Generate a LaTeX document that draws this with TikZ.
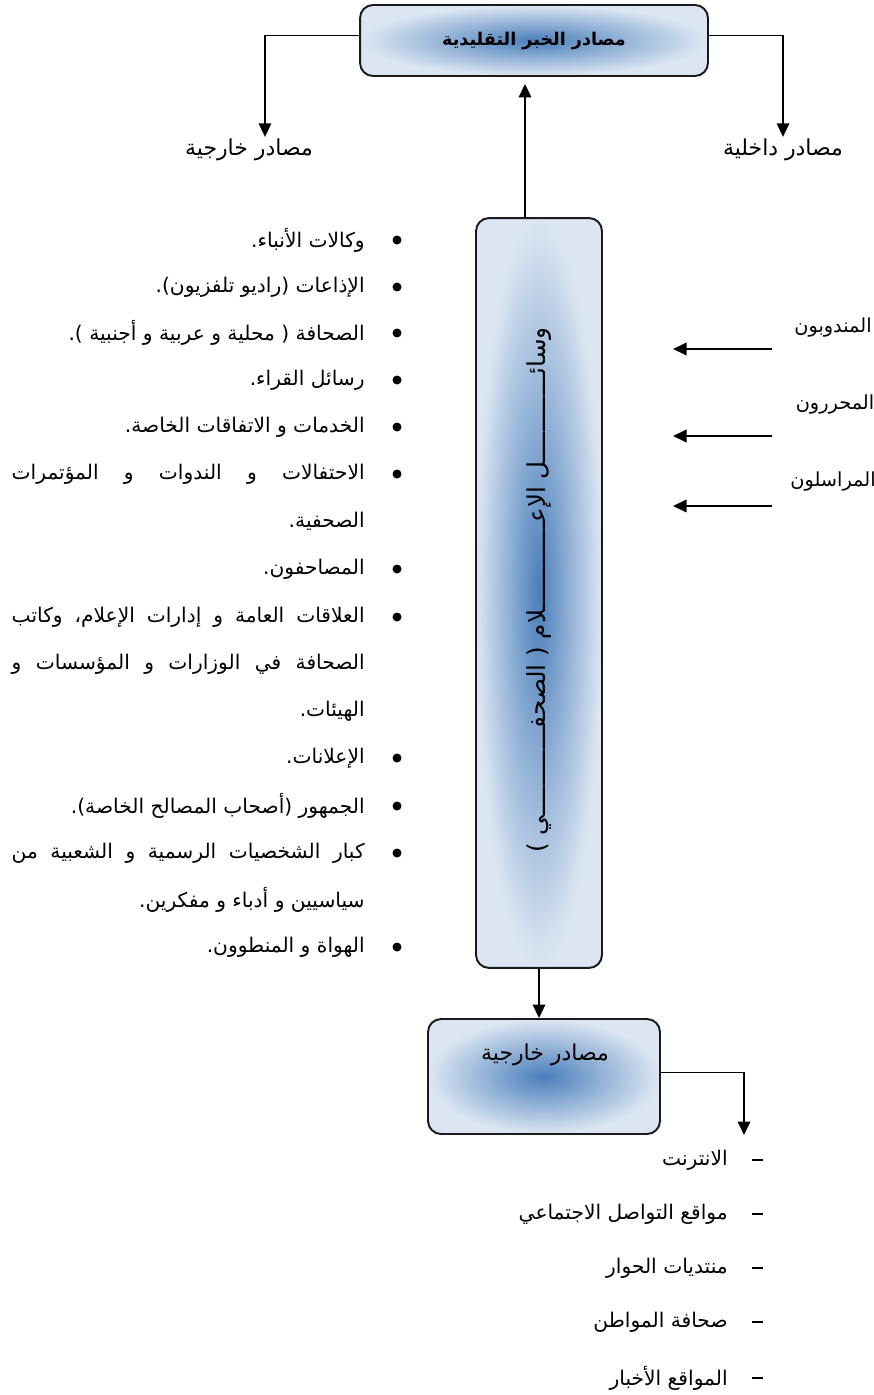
\documentclass[tikz,border=0pt]{standalone}
\usepackage{fontspec}
\usepackage{xcolor}
\usepackage{tikz}
\usetikzlibrary{positioning,arrows.meta}

\newfontfamily\arabicfont[Script=Arabic]{DejaVu Sans}
\TeXXeTstate=1

\definecolor{boxout}{HTML}{DCE6F2}
\definecolor{boxin}{HTML}{4A7EBB}
\definecolor{rim}{HTML}{1A1A1A}

\newcommand{\artxt}[1]{{\arabicfont\beginR #1\endR}}
\newcommand{\arjust}[1]{\makebox[7.06cm][s]{\arabicfont\beginR #1\endR}}

\begin{document}
\begin{tikzpicture}[
    x=0.02cm, y=-0.02cm,
    font=\fontsize{11.5}{13}\selectfont,
    glowbox/.style = {draw=rim, line width=1.1pt, rounded corners=0.26cm,
                      inner color=boxin, outer color=boxout},
    arr/.style     = {-{Triangle[length=0.27cm,width=0.25cm]}, line width=1pt},
    lbl/.style     = {inner sep=1pt, font=\fontsize{12.5}{14}\selectfont},
    staff/.style   = {inner sep=1pt, font=\fontsize{11}{13}\selectfont},
    entry/.style   = {anchor=east, inner sep=0pt},
    dot/.style     = {circle, fill, inner sep=0pt, minimum size=0.18cm},
]
\useasboundingbox (0,0) rectangle (873,1395);

%% ── Traditional sources ───────────────────────────────────────────────────
\node[glowbox, minimum width=6.96cm, minimum height=1.42cm,
      font=\fontsize{10}{12}\selectfont] (trad) at (534,40.5)
  {\bfseries\artxt{مصادر الخبر التقليدية}};
\node[lbl] (extl) at (249,150) {\artxt{مصادر خارجية}};
\node[lbl] (intl) at (783,150) {\artxt{مصادر داخلية}};
\draw[arr] ([yshift=0.1cm]trad.west) -| ([xshift=0.32cm]extl.north);
\draw[arr] ([yshift=0.1cm]trad.east) -| (intl.north);

%% ── Media column ──────────────────────────────────────────────────────────
\node[glowbox, minimum width=2.52cm, minimum height=15cm] (media) at (539,593) {};
\node[rotate=90, font=\fontsize{14}{16}\selectfont] (mediat) at (539,590)
  {\artxt{وسائــــــــــــل الإعــــــــــــلام ( الصحفــــــــــــي )}};
\coordinate (up) at (525,218);
\draw[arr, shorten >=0.14cm] (media.north -| up) -- (trad.south -| up);

%% ── Staff on the right ────────────────────────────────────────────────────
\node[staff] (staff1) at (833,328) {\artxt{المندوبون}};
\node[staff] (staff2) at (835,405) {\artxt{المحررون}};
\node[staff] (staff3) at (833,482) {\artxt{المراسلون}};
\foreach \i/\y in {1/349, 2/436, 3/506} {
  \coordinate (s\i) at (772,\y);
  \coordinate (t\i) at (673,\y);
  \draw[arr] (s\i) -- (t\i);
}

%% ── Bullet list on the left ───────────────────────────────────────────────
\foreach \y in {240,287,333,380,427,474,569,617,758,806,853,947}
  \node[dot] (b\y) at (397,\y) {};
\foreach \y/\txt in {240/{وكالات الأنباء.},
                     287/{الإذاعات (راديو تلفزيون).},
                     333/{الصحافة ( محلية و عربية و أجنبية ).},
                     380/{رسائل القراء.},
                     427/{الخدمات و الاتفاقات الخاصة.},
                     521/{الصحفية.},
                     569/{المصاحفون.},
                     711/{الهيئات.},
                     758/{الإعلانات.},
                     806/{الجمهور (أصحاب المصالح الخاصة).},
                     900/{سياسيين و أدباء و مفكرين.},
                     947/{الهواة و المنطوون.}}
  \node[entry] (l\y) at (365,\y) {\artxt{\txt}};
\node[entry] (l474) at (365,474)
  {\arjust{الاحتفالات\hfill و\hfill الندوات\hfill و\hfill المؤتمرات}};
\node[entry] (l617) at (365,617)
  {\arjust{العلاقات\hfill العامة\hfill و\hfill إدارات\hfill الإعلام،\hfill وكاتب}};
\node[entry] (l664) at (365,664)
  {\arjust{الصحافة\hfill في\hfill الوزارات\hfill و\hfill المؤسسات\hfill و}};
\node[entry] (l853) at (365,853)
  {\arjust{كبار\hfill الشخصيات\hfill الرسمية\hfill و\hfill الشعبية\hfill من}};

%% ── New external sources ──────────────────────────────────────────────────
\node[glowbox, minimum width=4.64cm, minimum height=2.3cm] (ext) at (544,1076.5) {};
\node[lbl] (extt) at (545,1055) {\artxt{مصادر خارجية}};
\draw[arr] (media.south) -- (media.south |- ext.north);
\coordinate (web) at (744,1135);
\draw[arr] ([yshift=0.08cm]ext.east) -| (web);

\foreach \y/\txt in {1160/{الانترنت},
                     1214/{مواقع التواصل الاجتماعي},
                     1268/{منتديات الحوار},
                     1322/{صحافة المواطن},
                     1378/{المواقع الأخبار}} {
  \node[inner sep=0pt] (d\y) at (757,\y) {\rule{0.22cm}{0.6pt}};
  \node[entry] (w\y) at (728,\y) {\artxt{\txt}};
}

\end{tikzpicture}
\end{document}
